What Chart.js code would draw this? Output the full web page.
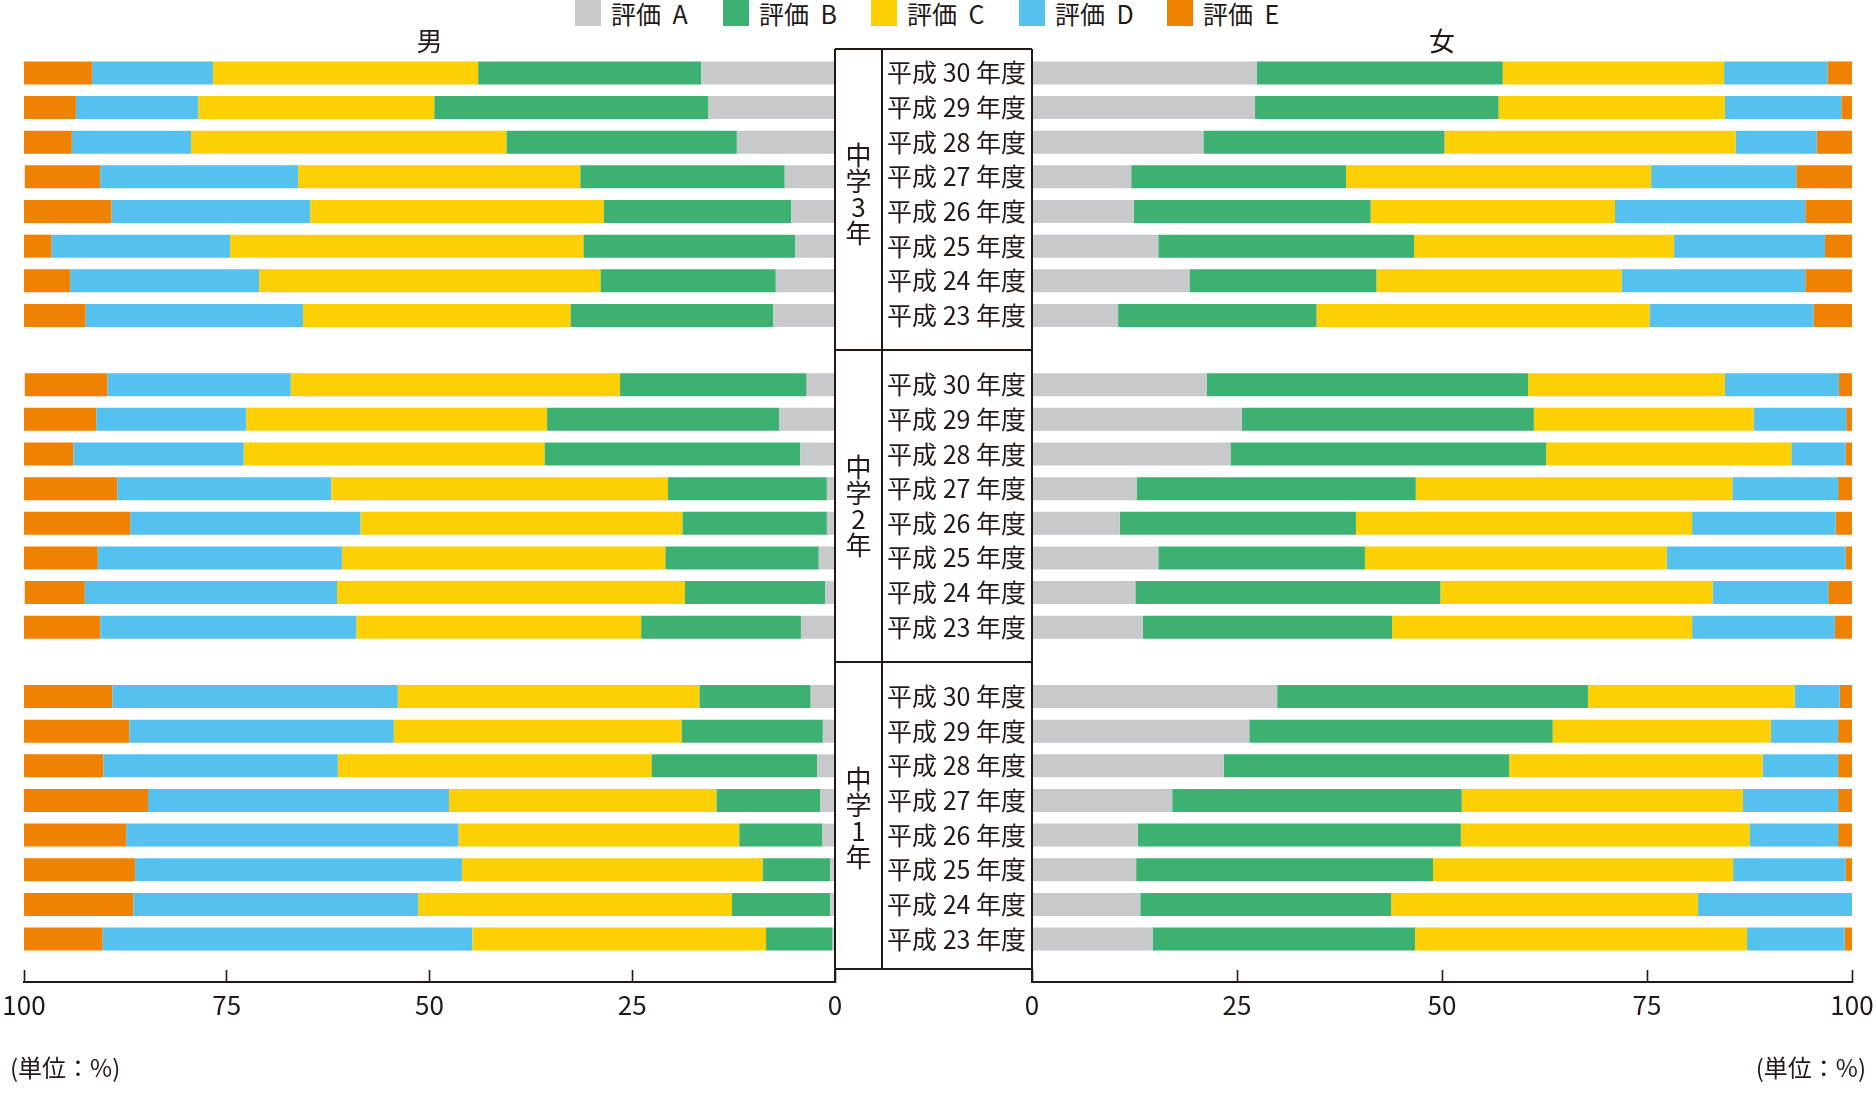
<!DOCTYPE html>
<html lang="ja">
<head>
<meta charset="utf-8">
<script src="https://cdn.jsdelivr.net/npm/chart.js@4.4.1/dist/chart.umd.min.js"></script>
<style>
  body { margin: 0; background: #fff; width: 1876px; height: 1100px; position: relative; overflow: hidden;
         font-family: "Noto Sans CJK JP", sans-serif; color: #231815; }
  #legend { position: absolute; left: 575px; top: 0; display: flex; }
  .item { width: 148px; height: 26px; display: flex; align-items: center; font-size: 25px; line-height: 26px; word-spacing: 6px; }
  .item i { display: inline-block; width: 26px; height: 26px; margin-right: 10px; }
  #maleBox { position: absolute; left: 0; top: 0; width: 850px; height: 1100px; }
  #femaleBox { position: absolute; left: 828px; top: 0; width: 1048px; height: 1100px; }
</style>
</head>
<body>
<div id="legend"></div>
<div id="maleBox"><canvas id="male"></canvas></div>
<div id="femaleBox"><canvas id="female"></canvas></div>
<script>
const ink = '#231815';
const fontFamily = '"Noto Sans CJK JP", sans-serif';

const seriesNames = ['評価 A', '評価 B', '評価 C', '評価 D', '評価 E'];
const seriesColors = ['#c8c9ca', '#3cb171', '#fcd004', '#55c1ef', '#ef8200'];
const gradeLabels = ['中学3年', '中学2年', '中学1年'];
const yearLabels = ['平成 30 年度', '平成 29 年度', '平成 28 年度', '平成 27 年度',
                    '平成 26 年度', '平成 25 年度', '平成 24 年度', '平成 23 年度'];
const xTicks = [0, 25, 50, 75, 100];

// each array: 中学3年 (H30 -> H23), 中学2年 (H30 -> H23), 中学1年 (H30 -> H23)
const maleA = [16.5, 15.6, 12.1, 6.2, 5.4, 4.9, 7.3, 7.6,
               3.5, 6.9, 4.3, 1.0, 1.0, 2.0, 1.2, 4.2,
               3.0, 1.5, 2.2, 1.8, 1.6, 0.6, 0.6, 0.3];
const maleB = [27.5, 33.8, 28.4, 25.2, 23.1, 26.1, 21.6, 25.0,
               23.0, 28.6, 31.5, 19.6, 17.8, 18.9, 17.3, 19.7,
               13.7, 17.4, 20.4, 12.8, 10.2, 8.3, 12.1, 8.2];
const maleC = [32.7, 29.1, 38.9, 34.8, 36.2, 43.6, 42.1, 33.0,
               40.6, 37.1, 37.1, 41.5, 39.7, 39.9, 42.9, 35.1,
               37.2, 35.5, 38.7, 33.0, 34.6, 37.1, 38.7, 36.2];
const maleD = [14.9, 15.1, 14.7, 24.4, 24.5, 22.0, 23.3, 26.8,
               22.6, 18.5, 21.0, 26.4, 28.4, 30.1, 31.1, 31.6,
               35.2, 32.6, 28.9, 37.1, 41.0, 40.3, 35.1, 45.6];
const maleE = [8.4, 6.4, 5.9, 9.3, 10.9, 3.5, 5.7, 7.7,
               10.2, 9.0, 6.1, 11.5, 13.2, 9.2, 7.4, 9.4,
               10.9, 13.0, 9.8, 15.4, 12.7, 13.7, 13.5, 9.8];

const femaleA = [27.4, 27.2, 20.9, 12.1, 12.4, 15.4, 19.2, 10.5,
                 21.3, 25.6, 24.2, 12.8, 10.7, 15.4, 12.6, 13.5,
                 29.9, 26.5, 23.4, 17.1, 12.9, 12.7, 13.2, 14.7];
const femaleB = [30.0, 29.7, 29.4, 26.2, 28.9, 31.2, 22.8, 24.2,
                 39.2, 35.6, 38.5, 34.0, 28.8, 25.2, 37.2, 30.4,
                 37.9, 37.0, 34.8, 35.3, 39.4, 36.2, 30.6, 32.0];
const femaleC = [27.0, 27.6, 35.5, 37.2, 29.8, 31.7, 29.9, 40.6,
                 24.0, 26.8, 29.9, 38.6, 41.0, 36.8, 33.2, 36.6,
                 25.2, 26.6, 30.9, 34.3, 35.2, 36.6, 37.4, 40.5];
const femaleD = [12.6, 14.2, 9.9, 17.7, 23.2, 18.4, 22.4, 20.0,
                 13.9, 11.3, 6.6, 12.9, 17.5, 21.8, 14.1, 17.4,
                 5.5, 8.2, 9.2, 11.6, 10.8, 13.7, 18.9, 11.9];
const femaleE = [3.0, 1.3, 4.3, 6.8, 5.7, 3.3, 5.7, 4.7,
                 1.7, 0.7, 0.8, 1.7, 2.0, 0.8, 2.9, 2.1,
                 1.5, 1.7, 1.7, 1.7, 1.7, 0.8, 0.0, 0.9];

// one blank row between grade groups
const groupSize = yearLabels.length + 1;
const rowPos = gradeLabels.flatMap((g, gi) => yearLabels.map((y, yi) => gi * groupSize + yi));

// legend
const legend = document.getElementById('legend');
seriesNames.forEach((name, i) => {
  const d = document.createElement('div');
  d.className = 'item';
  d.innerHTML = '<i style="background:' + seriesColors[i] + '"></i><span>' + name + '</span>';
  legend.appendChild(d);
});

function makeDatasets(series) {
  return series.map((vals, k) => ({
    label: seriesNames[k],
    backgroundColor: seriesColors[k],
    borderWidth: 0,
    stack: 'all',
    categoryPercentage: 1,
    barPercentage: 0.664,
    data: vals.map((v, i) => ({ x: v, y: rowPos[i] }))
  }));
}

function xScale(reverse) {
  return {
    type: 'linear', min: 0, max: 100, reverse: reverse, stacked: true,
    afterBuildTicks: s => { s.ticks = xTicks.map(v => ({ value: v })); },
    afterFit: s => { s.height = 40; },
    grid: { drawOnChartArea: false, tickLength: -12, tickColor: ink, tickWidth: 1.6 },
    border: { color: ink, width: 2 },
    ticks: { padding: 0, color: ink, font: { family: fontFamily, size: 26, lineHeight: '70px' },
             maxRotation: 0, autoSkip: false }
  };
}

function yScale(show) {
  return {
    type: 'linear', reverse: true, offset: false, min: -0.69, max: 26.24, display: show,
    afterBuildTicks: s => { s.ticks = rowPos.map(v => ({ value: v })); },
    afterFit: s => { if (show) s.width = 204; },
    grid: { display: false, drawTicks: false },
    border: { display: false },
    ticks: {
      autoSkip: false, padding: 6, color: ink,
      font: { family: fontFamily, size: 25 },
      callback: v => yearLabels[v % groupSize]
    }
  };
}

const frame = {
  id: 'frame',
  afterDraw(chart, args, o) {
    const { ctx, chartArea: a } = chart;
    ctx.save();
    ctx.fillStyle = ink;
    ctx.textBaseline = 'middle';
    ctx.textAlign = 'center';
    ctx.font = '26px ' + fontFamily;
    ctx.fillText(o.title, (a.left + a.right) / 2, a.top - 8);

    ctx.font = '24px ' + fontFamily;
    ctx.textAlign = o.unitAlign;
    ctx.fillText('(単位：%)', o.unitAlign === 'left' ? 10 : chart.width - 10, a.bottom + 86);

    if (o.table) {
      const y = chart.scales.y;
      const L = a.left - 197, D = a.left - 150, R = a.left;
      const top = a.top, bot = a.bottom - 13;
      ctx.strokeStyle = ink;
      ctx.lineWidth = 2;
      ctx.beginPath();
      ctx.moveTo(L, top); ctx.lineTo(R, top);
      ctx.moveTo(L, bot); ctx.lineTo(R, bot);
      ctx.moveTo(L, top); ctx.lineTo(L, a.bottom);
      ctx.moveTo(R, top); ctx.lineTo(R, a.bottom);
      ctx.moveTo(D, top); ctx.lineTo(D, bot);
      for (let g = 1; g < gradeLabels.length; g++) {
        const py = Math.round(y.getPixelForValue(g * groupSize - 1));
        ctx.moveTo(L, py); ctx.lineTo(R, py);
      }
      ctx.stroke();

      ctx.font = '26px ' + fontFamily;
      ctx.textAlign = 'center';
      gradeLabels.forEach((lab, g) => {
        const chars = Array.from(lab);
        const cy = y.getPixelForValue(g * groupSize + (yearLabels.length - 1) / 2);
        chars.forEach((c, k) => {
          ctx.fillText(c, (L + D) / 2, cy + (k - (chars.length - 1) / 2) * 26);
        });
      });
    }
    ctx.restore();
  }
};

function makeChart(id, series, side) {
  const isMale = side === 'left';
  return new Chart(document.getElementById(id), {
    type: 'bar',
    data: { datasets: makeDatasets(series) },
    plugins: [frame],
    options: {
      indexAxis: 'y',
      responsive: true,
      maintainAspectRatio: false,
      animation: false,
      layout: { padding: isMale ? { left: 24, right: 15, top: 49, bottom: 78 }
                                : { left: 0, right: 24, top: 49, bottom: 78 } },
      scales: { x: xScale(isMale), y: yScale(!isMale) },
      plugins: {
        legend: { display: false },
        tooltip: { enabled: false },
        frame: { title: isMale ? '男' : '女', unitAlign: isMale ? 'left' : 'right', table: !isMale }
      }
    }
  });
}

makeChart('male', [maleA, maleB, maleC, maleD, maleE], 'left');
makeChart('female', [femaleA, femaleB, femaleC, femaleD, femaleE], 'right');
</script>
</body>
</html>
